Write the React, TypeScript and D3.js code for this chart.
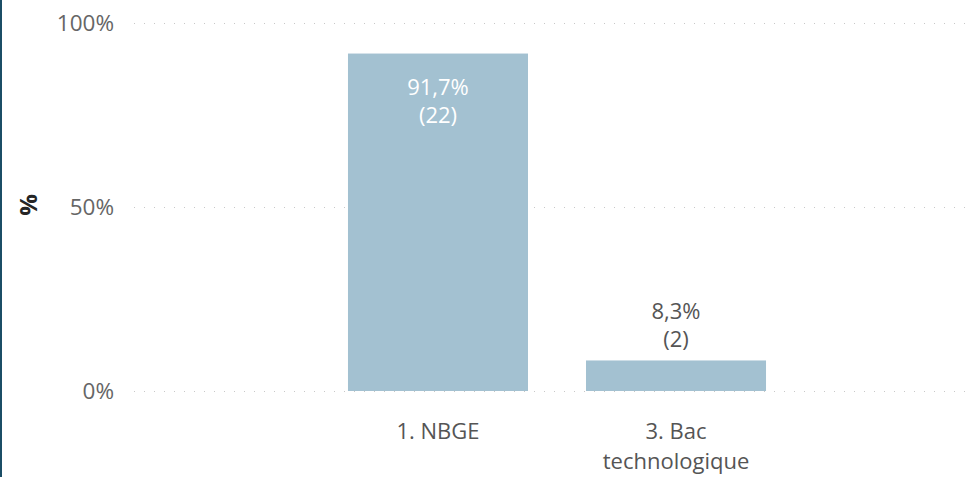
import { useEffect, useRef } from "react";
import * as d3 from "d3";

const categories = ["1. NBGE", "3. Bac technologique"];
const percents = [91.7, 8.3];
const counts = [22, 2];
const yTicks = [0, 50, 100];

const W = 967;
const H = 477;
const FONT = "'Open Sans', 'Noto Sans', sans-serif";

export default function App() {
  const svgRef = useRef<SVGSVGElement>(null);

  useEffect(() => {
    if (!svgRef.current) return;
    const svg = d3.select(svgRef.current);
    svg.selectAll("*").remove();

    const x = d3
      .scaleBand<string>()
      .domain(categories)
      .range([134, 980])
      .paddingInner(0.2437)
      .paddingOuter(0.899);

    const y = d3.scaleLinear().domain([0, 100]).range([391, 23]);

    // left frame
    svg
      .append("rect")
      .attr("x", 0)
      .attr("y", 0)
      .attr("width", 2)
      .attr("height", H)
      .attr("fill", "#1b4d66");

    // gridlines
    svg
      .append("g")
      .selectAll("line")
      .data(yTicks)
      .enter()
      .append("line")
      .attr("x1", 134)
      .attr("x2", W)
      .attr("y1", (d) => y(d) + 0.5)
      .attr("y2", (d) => y(d) + 0.5)
      .attr("stroke", "#c8c8c8")
      .attr("stroke-width", 1)
      .attr("stroke-dasharray", "1,9");

    // y tick labels
    svg
      .append("g")
      .selectAll("text")
      .data(yTicks)
      .enter()
      .append("text")
      .attr("x", 114)
      .attr("y", (d) => y(d))
      .attr("dy", "0.36em")
      .attr("text-anchor", "end")
      .attr("font-family", FONT)
      .attr("font-size", "22.5px")
      .attr("fill", "#666")
      .text((d) => d + "%");

    // y axis title
    svg
      .append("text")
      .attr("transform", `translate(28,${y(50) - 2}) rotate(-90)`)
      .attr("dy", "0.36em")
      .attr("text-anchor", "middle")
      .attr("font-family", FONT)
      .attr("font-size", "24px")
      .attr("font-weight", "bold")
      .attr("fill", "#252525")
      .text("%");

    // bars
    svg
      .append("g")
      .selectAll("rect")
      .data(categories)
      .enter()
      .append("rect")
      .attr("x", (d) => x(d)!)
      .attr("y", (d, i) => y(percents[i]))
      .attr("width", x.bandwidth())
      .attr("height", (d, i) => y(0) - y(percents[i]))
      .attr("fill", "#a3c1d1");

    // data labels: value line and count line as separate texts
    const inside = (i: number) => percents[i] > 20;
    const cx = (d: string) => x(d)! + x.bandwidth() / 2;
    const firstY = (i: number) =>
      inside(i) ? y(percents[i]) + 41 : y(percents[i]) - 41;

    const g = svg.append("g");
    g.selectAll(".pct")
      .data(categories)
      .enter()
      .append("text")
      .attr("class", "pct")
      .attr("x", cx)
      .attr("y", (d, i) => firstY(i))
      .attr("text-anchor", "middle")
      .attr("font-family", FONT)
      .attr("font-size", "22px")
      .attr("fill", (d, i) => (inside(i) ? "#fff" : "#555"))
      .text((d, i) => percents[i].toFixed(1).replace(".", ",") + "%");

    g.selectAll(".cnt")
      .data(categories)
      .enter()
      .append("text")
      .attr("class", "cnt")
      .attr("x", cx)
      .attr("y", (d, i) => firstY(i) + 28)
      .attr("text-anchor", "middle")
      .attr("font-family", FONT)
      .attr("font-size", "22px")
      .attr("fill", (d, i) => (inside(i) ? "#fff" : "#555"))
      .text((d, i) => "(" + counts[i] + ")");

    // category labels
    const cat = svg
      .append("g")
      .selectAll("text")
      .data(categories)
      .enter()
      .append("text")
      .attr("text-anchor", "middle")
      .attr("font-family", FONT)
      .attr("font-size", "22px")
      .attr("fill", "#555");

    cat.each(function (d) {
      const words = d === "3. Bac technologique" ? ["3. Bac", "technologique"] : [d];
      const t = d3.select(this);
      words.forEach((w, k) => {
        t.append("tspan")
          .attr("x", x(d)! + x.bandwidth() / 2)
          .attr("y", 439 + k * 30)
          .text(w);
      });
    });
  }, []);

  return (
    <div style={{ position: "fixed", left: 0, top: 0, background: "#fff" }}>
      <svg ref={svgRef} width={W} height={H} style={{ display: "block" }} />
    </div>
  );
}
